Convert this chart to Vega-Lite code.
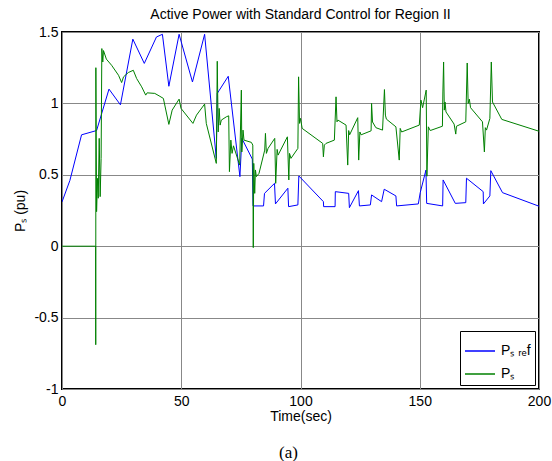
{
  "$schema": "https://vega.github.io/schema/vega-lite/v6.json",
  "width": 477,
  "height": 357,
  "autosize": {"type": "none"},
  "padding": {"left": 62, "top": 32, "right": 13, "bottom": 72},
  "background": "white",
  "title": {"text": "Active Power with Standard Control for Region II", "font": "Liberation Sans", "fontSize": 14, "fontWeight": "normal", "color": "#000", "offset": 3, "anchor": "middle"},
  "config": {
    "view": {"stroke": "black", "strokeWidth": 2},
    "axis": {"domain": false, "ticks": false, "grid": true, "gridColor": "#888", "gridWidth": 1, "labelFont": "Liberation Sans", "labelFontSize": 14, "labelColor": "#000", "titleFont": "Liberation Sans", "titleFontSize": 14, "titleFontWeight": "normal", "titleColor": "#000"},
    "legend": {"labelFont": "Liberation Sans", "labelFontSize": 14, "labelColor": "#000"}
  },
  "datasets": {
    "d": [
      {"s":"ref","i":1,"t":0,"v":0.31},
      {"s":"ref","i":2,"t":3.3,"v":0.46},
      {"s":"ref","i":3,"t":8.2,"v":0.78},
      {"s":"ref","i":4,"t":14.5,"v":0.81},
      {"s":"ref","i":5,"t":19.7,"v":1.10},
      {"s":"ref","i":6,"t":24.5,"v":0.99},
      {"s":"ref","i":7,"t":29.7,"v":1.45},
      {"s":"ref","i":8,"t":34.5,"v":1.28},
      {"s":"ref","i":9,"t":39.6,"v":1.465},
      {"s":"ref","i":10,"t":42.1,"v":1.484},
      {"s":"ref","i":11,"t":44.8,"v":1.12},
      {"s":"ref","i":12,"t":49.1,"v":1.484},
      {"s":"ref","i":13,"t":54.7,"v":1.15},
      {"s":"ref","i":14,"t":59.8,"v":1.484},
      {"s":"ref","i":15,"t":64.7,"v":0.615},
      {"s":"ref","i":16,"t":65.1,"v":1.07},
      {"s":"ref","i":17,"t":69.7,"v":1.19},
      {"s":"ref","i":18,"t":74.6,"v":0.487},
      {"s":"ref","i":19,"t":75.4,"v":0.755},
      {"s":"ref","i":20,"t":79.8,"v":0.61},
      {"s":"ref","i":21,"t":80.1,"v":0.282},
      {"s":"ref","i":22,"t":84.5,"v":0.282},
      {"s":"ref","i":23,"t":84.9,"v":0.37},
      {"s":"ref","i":24,"t":89.1,"v":0.44},
      {"s":"ref","i":25,"t":89.5,"v":0.296},
      {"s":"ref","i":26,"t":94.7,"v":0.406},
      {"s":"ref","i":27,"t":95.0,"v":0.277},
      {"s":"ref","i":28,"t":98.9,"v":0.289},
      {"s":"ref","i":29,"t":99.3,"v":0.492},
      {"s":"ref","i":30,"t":109.6,"v":0.312},
      {"s":"ref","i":31,"t":109.7,"v":0.277},
      {"s":"ref","i":32,"t":114.5,"v":0.277},
      {"s":"ref","i":33,"t":114.6,"v":0.382},
      {"s":"ref","i":34,"t":120.2,"v":0.37},
      {"s":"ref","i":35,"t":120.5,"v":0.27},
      {"s":"ref","i":36,"t":124.3,"v":0.389},
      {"s":"ref","i":37,"t":124.7,"v":0.282},
      {"s":"ref","i":38,"t":129.3,"v":0.289},
      {"s":"ref","i":39,"t":129.8,"v":0.359},
      {"s":"ref","i":40,"t":134.0,"v":0.312},
      {"s":"ref","i":41,"t":135.1,"v":0.399},
      {"s":"ref","i":42,"t":140.0,"v":0.352},
      {"s":"ref","i":43,"t":140.3,"v":0.282},
      {"s":"ref","i":44,"t":149.4,"v":0.296},
      {"s":"ref","i":45,"t":150.2,"v":0.375},
      {"s":"ref","i":46,"t":152.6,"v":0.533},
      {"s":"ref","i":47,"t":152.9,"v":0.30},
      {"s":"ref","i":48,"t":159.6,"v":0.282},
      {"s":"ref","i":49,"t":159.8,"v":0.464},
      {"s":"ref","i":50,"t":164.9,"v":0.30},
      {"s":"ref","i":51,"t":169.3,"v":0.305},
      {"s":"ref","i":52,"t":169.6,"v":0.476},
      {"s":"ref","i":53,"t":176.6,"v":0.382},
      {"s":"ref","i":54,"t":176.7,"v":0.296},
      {"s":"ref","i":55,"t":179.4,"v":0.352},
      {"s":"ref","i":56,"t":179.8,"v":0.529},
      {"s":"ref","i":57,"t":184.7,"v":0.375},
      {"s":"ref","i":58,"t":200,"v":0.28},
      {"s":"s","i":1,"t":0,"v":0},
      {"s":"s","i":2,"t":14.1,"v":0},
      {"s":"s","i":3,"t":14.15,"v":-0.69},
      {"s":"s","i":4,"t":14.2,"v":1.25},
      {"s":"s","i":5,"t":14.5,"v":0.242},
      {"s":"s","i":6,"t":14.9,"v":0.475},
      {"s":"s","i":7,"t":15.2,"v":0.336},
      {"s":"s","i":8,"t":15.6,"v":0.755},
      {"s":"s","i":9,"t":16.0,"v":0.347},
      {"s":"s","i":10,"t":16.4,"v":0.615},
      {"s":"s","i":11,"t":16.7,"v":1.384},
      {"s":"s","i":12,"t":17.1,"v":1.29},
      {"s":"s","i":13,"t":17.4,"v":1.37},
      {"s":"s","i":14,"t":18.6,"v":1.31},
      {"s":"s","i":15,"t":20.8,"v":1.267},
      {"s":"s","i":16,"t":23.7,"v":1.197},
      {"s":"s","i":17,"t":25.0,"v":1.146},
      {"s":"s","i":18,"t":25.8,"v":1.186},
      {"s":"s","i":19,"t":27.8,"v":1.216},
      {"s":"s","i":20,"t":29.9,"v":1.232},
      {"s":"s","i":21,"t":31.3,"v":1.174},
      {"s":"s","i":22,"t":33.4,"v":1.116},
      {"s":"s","i":23,"t":35.1,"v":1.058},
      {"s":"s","i":24,"t":35.7,"v":1.074},
      {"s":"s","i":25,"t":38.9,"v":1.07},
      {"s":"s","i":26,"t":40.7,"v":1.053},
      {"s":"s","i":27,"t":42.5,"v":1.035},
      {"s":"s","i":28,"t":44.8,"v":0.853},
      {"s":"s","i":29,"t":46.2,"v":0.953},
      {"s":"s","i":30,"t":49.1,"v":1.03},
      {"s":"s","i":31,"t":49.9,"v":0.965},
      {"s":"s","i":32,"t":54.9,"v":0.86},
      {"s":"s","i":33,"t":56.4,"v":0.918},
      {"s":"s","i":34,"t":59.8,"v":0.995},
      {"s":"s","i":35,"t":60.5,"v":0.86},
      {"s":"s","i":36,"t":64.7,"v":0.58},
      {"s":"s","i":37,"t":65.1,"v":1.295},
      {"s":"s","i":38,"t":65.5,"v":0.80},
      {"s":"s","i":39,"t":65.9,"v":0.965},
      {"s":"s","i":40,"t":66.3,"v":0.848},
      {"s":"s","i":41,"t":66.8,"v":0.883},
      {"s":"s","i":42,"t":68.9,"v":0.906},
      {"s":"s","i":43,"t":69.9,"v":0.913},
      {"s":"s","i":44,"t":70.2,"v":0.522},
      {"s":"s","i":45,"t":70.8,"v":0.743},
      {"s":"s","i":46,"t":71.3,"v":0.65},
      {"s":"s","i":47,"t":71.9,"v":0.703},
      {"s":"s","i":48,"t":74.5,"v":0.568},
      {"s":"s","i":49,"t":75.2,"v":1.093},
      {"s":"s","i":50,"t":75.4,"v":0.66},
      {"s":"s","i":51,"t":75.9,"v":0.813},
      {"s":"s","i":52,"t":76.3,"v":0.743},
      {"s":"s","i":53,"t":79.4,"v":0.727},
      {"s":"s","i":54,"t":80.0,"v":0.708},
      {"s":"s","i":55,"t":80.2,"v":-0.01},
      {"s":"s","i":56,"t":80.4,"v":0.58},
      {"s":"s","i":57,"t":80.8,"v":0.37},
      {"s":"s","i":58,"t":81.1,"v":0.534},
      {"s":"s","i":59,"t":81.5,"v":0.487},
      {"s":"s","i":60,"t":82.6,"v":0.51},
      {"s":"s","i":61,"t":85.0,"v":0.673},
      {"s":"s","i":62,"t":85.3,"v":0.79},
      {"s":"s","i":63,"t":85.7,"v":0.65},
      {"s":"s","i":64,"t":86.4,"v":0.685},
      {"s":"s","i":65,"t":89.2,"v":0.755},
      {"s":"s","i":66,"t":89.6,"v":0.44},
      {"s":"s","i":67,"t":90.2,"v":0.678},
      {"s":"s","i":68,"t":90.6,"v":0.638},
      {"s":"s","i":69,"t":94.5,"v":0.766},
      {"s":"s","i":70,"t":95.1,"v":0.464},
      {"s":"s","i":71,"t":95.4,"v":0.65},
      {"s":"s","i":72,"t":96.0,"v":0.615},
      {"s":"s","i":73,"t":98.9,"v":0.685},
      {"s":"s","i":74,"t":99.2,"v":1.186},
      {"s":"s","i":75,"t":99.6,"v":0.86},
      {"s":"s","i":76,"t":100.0,"v":0.895},
      {"s":"s","i":77,"t":100.7,"v":0.825},
      {"s":"s","i":78,"t":109.3,"v":0.72},
      {"s":"s","i":79,"t":109.6,"v":0.626},
      {"s":"s","i":80,"t":110.0,"v":0.708},
      {"s":"s","i":81,"t":110.7,"v":0.72},
      {"s":"s","i":82,"t":114.2,"v":0.743},
      {"s":"s","i":83,"t":114.9,"v":1.046},
      {"s":"s","i":84,"t":115.3,"v":0.871},
      {"s":"s","i":85,"t":115.7,"v":0.883},
      {"s":"s","i":86,"t":119.1,"v":0.848},
      {"s":"s","i":87,"t":119.8,"v":0.568},
      {"s":"s","i":88,"t":120.2,"v":0.81},
      {"s":"s","i":89,"t":120.6,"v":0.78},
      {"s":"s","i":90,"t":124.0,"v":0.90},
      {"s":"s","i":91,"t":124.4,"v":0.603},
      {"s":"s","i":92,"t":124.9,"v":0.80},
      {"s":"s","i":93,"t":125.4,"v":0.78},
      {"s":"s","i":94,"t":129.6,"v":0.808},
      {"s":"s","i":95,"t":129.8,"v":1.0},
      {"s":"s","i":96,"t":130.2,"v":0.87},
      {"s":"s","i":97,"t":131.6,"v":0.83},
      {"s":"s","i":98,"t":134.4,"v":0.813},
      {"s":"s","i":99,"t":135.2,"v":1.097},
      {"s":"s","i":100,"t":135.6,"v":0.918},
      {"s":"s","i":101,"t":136.0,"v":0.89},
      {"s":"s","i":102,"t":140.0,"v":0.836},
      {"s":"s","i":103,"t":141.4,"v":0.603},
      {"s":"s","i":104,"t":141.8,"v":0.825},
      {"s":"s","i":105,"t":142.4,"v":0.80},
      {"s":"s","i":106,"t":149.8,"v":0.848},
      {"s":"s","i":107,"t":150.5,"v":1.023},
      {"s":"s","i":108,"t":151.2,"v":0.97},
      {"s":"s","i":109,"t":152.7,"v":1.093},
      {"s":"s","i":110,"t":153.0,"v":0.49},
      {"s":"s","i":111,"t":153.6,"v":0.836},
      {"s":"s","i":112,"t":154.4,"v":0.81},
      {"s":"s","i":113,"t":159.5,"v":0.84},
      {"s":"s","i":114,"t":159.7,"v":1.08},
      {"s":"s","i":115,"t":160.0,"v":1.29},
      {"s":"s","i":116,"t":160.3,"v":0.953},
      {"s":"s","i":117,"t":160.6,"v":1.01},
      {"s":"s","i":118,"t":161.0,"v":0.94},
      {"s":"s","i":119,"t":164.4,"v":0.855},
      {"s":"s","i":120,"t":165.1,"v":0.785},
      {"s":"s","i":121,"t":165.4,"v":0.84},
      {"s":"s","i":122,"t":169.3,"v":0.871},
      {"s":"s","i":123,"t":169.9,"v":1.283},
      {"s":"s","i":124,"t":170.3,"v":1.0},
      {"s":"s","i":125,"t":170.8,"v":1.03},
      {"s":"s","i":126,"t":171.3,"v":0.97},
      {"s":"s","i":127,"t":176.3,"v":0.871},
      {"s":"s","i":128,"t":177.1,"v":0.66},
      {"s":"s","i":129,"t":177.5,"v":0.83},
      {"s":"s","i":130,"t":178.0,"v":0.813},
      {"s":"s","i":131,"t":179.4,"v":0.895},
      {"s":"s","i":132,"t":180.0,"v":1.29},
      {"s":"s","i":133,"t":180.5,"v":1.01},
      {"s":"s","i":134,"t":184.4,"v":0.888},
      {"s":"s","i":135,"t":200,"v":0.805}
    ],
    "cap": [{"t": 0}]
  },
  "layer": [
    {
      "data": {"name": "d"},
      "mark": {"type": "line", "strokeWidth": 1, "clip": true},
      "encoding": {
        "x": {"field": "t", "type": "quantitative", "scale": {"domain": [0, 200], "nice": false, "zero": false},
              "axis": {"values": [0, 50, 100, 150, 200], "labelExpr": "'' + datum.value", "labelFlush": false, "labelPadding": 5, "title": "Time(sec)", "titlePadding": 1}},
        "y": {"field": "v", "type": "quantitative", "scale": {"domain": [-1, 1.5], "nice": false, "zero": false},
              "axis": {"values": [-1, -0.5, 0, 0.5, 1, 1.5], "labelExpr": "'' + datum.value", "labelFlush": false, "labelPadding": 4, "title": "Pₛ (pu)", "titlePadding": 6}},
        "color": {"field": "s", "type": "nominal", "scale": {"domain": ["ref", "s"], "range": ["#0000ff", "#008000"]},
                  "legend": {"title": null, "titlePadding": 0, "orient": "bottom-right", "offset": 4, "labelExpr": "datum.value == 'ref' ? 'Pₛ ᵣₑf' : 'Pₛ'", "symbolType": "stroke", "symbolSize": 900, "symbolStrokeWidth": 1.5, "strokeColor": "black", "fillColor": "white", "padding": 4, "rowPadding": 0, "labelOffset": 5}},
        "order": {"field": "i", "type": "quantitative"}
      }
    },
    {
      "data": {"name": "cap"},
      "mark": {"type": "rule", "opacity": 0},
      "encoding": {
        "x": {"field": "t", "type": "quantitative", "axis": {"orient": "bottom", "labels": false, "grid": false, "title": "(a)", "titleX": 226, "titleFont": "Liberation Serif", "titleFontSize": 17, "titlePadding": 55}}
      }
    }
  ],
  "resolve": {"axis": {"x": "independent"}}
}
